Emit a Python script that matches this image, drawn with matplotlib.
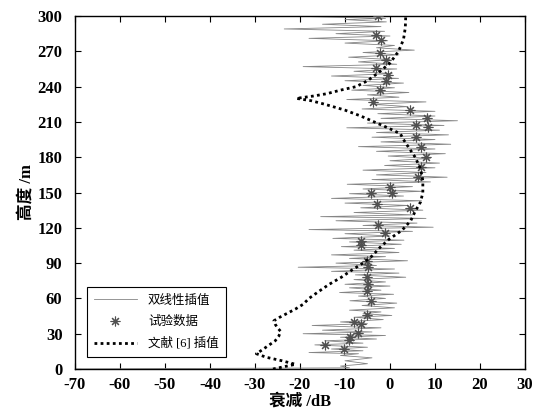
import matplotlib
matplotlib.use("Agg")
import matplotlib.pyplot as plt

# ---------------- data ----------------
# bilinear interpolation curve (turning points)
bl_h = [0, 1, 2.5, 4.5, 7, 9.5, 11.5, 13, 14, 15.5, 17, 18.5, 20.5, 22, 24, 25.5, 27, 28.5,
        30, 31.5, 33, 35, 37, 38.5, 40, 42, 44, 45.5, 47, 48.5, 50, 52, 54, 56, 58, 60, 62,
        63.5, 65, 67, 69, 70.5, 72, 74, 76, 78, 80, 81.5, 83, 85, 86.5, 88, 90, 92, 94, 95.5,
        97, 99, 101, 102.5, 104, 106, 108, 109.5, 111, 113, 115, 117, 118.5, 120.5, 122, 124,
        126, 128, 129.5, 131, 133, 135, 137, 139, 141, 143, 145, 147, 149, 151, 153, 155, 157,
        159, 161, 163, 165, 167, 169, 171, 173, 175, 177, 179, 181, 183, 185, 187, 189, 191,
        193, 195, 197, 199, 201, 203, 205, 207, 209, 211, 213, 215, 217, 219, 221, 223, 225,
        227, 229, 231, 233, 235, 237, 239, 241, 243, 245, 247, 249, 251, 253, 255, 257, 259,
        261, 263, 265, 267, 269, 271, 273, 275, 277, 279, 281, 283, 285, 287, 289, 291, 293,
        295, 297, 298, 299.5, 300]
bl_x = [-72, -9, -11, -5, -10, -4, -11, -7, -18, -6, -13, -5, -16.7, -6, -14.5, -3, -11, -1,
        -19.3, -4, -15, -2, -17.3, -5, -11, -1.5, -8, 0.4, -6, -2, -9, 1, -6.2, 1.5, -8.9, -1, -7,
        0.8, -11.2, -2, -9, 0, -10, -1, -8, 3.5, -7.7, 2, -13, 1, -20.4, -3, -12, 3.9, -9, -1,
        -13, 2, -8, 1, -10.8, 2.5, -9, 3.1, -12.7, 0, -10, 5, -18, 9.6, -6, 6,
        -12, 8, -15.4, 5, -8, 7.3, -6.5, 4, -10, 7, -13, 3, -9, 7.3, -6, 5, -9.5,
        9, -4, 12.7, -3, 8, -6, 10, -1.2, 11, 0, 9, -0.4, 12.3, -3, 10, -7, 13.5,
        -2, 10, -4, 13, -3, 11, -9.6, 12, -5, 15, -2, 10, -2.7, 10, -6.2, 4, -4,
        8, -9.6, 2, -5, 4.2, -8.5, 1, -6, 3, -10, 1.9, -13, 0.5, -8, 1.5, -19.3, 1.5,
        -7, 0, -9.2, 2, -6, 5.4, -3, 1, -10, -0.5, -18, 0, -12, -1.2, -23.5, -2, -15,
        -0.8, -10, -1, -17.7, -3]

# experimental data
exp_h = [300, 284, 280, 268.5, 263, 256, 250, 245, 237, 227, 220.5, 213, 207, 206, 197, 189,
         180, 171.5, 163, 154.5, 149.5, 149.5, 140, 137, 122.5, 115.7, 109, 105, 92, 86.5,
         78, 72, 66, 58, 46, 40, 38, 31, 27, 25, 20, 17]
exp_x = [-2.7, -3.2, -2.1, -2.3, -0.9, -3.2, -0.4, -0.8, -2.3, -3.7, 4.5, 8.3, 5.8, 8.5, 5.8,
         6.9, 8.1, 7.0, 6.3, 0.0, 0.4, -4.2, -2.9, 4.4, -2.7, -1.2, -6.4, -6.5, -5.2, -4.8,
         -5.0, -4.8, -5.2, -4.2, -5.0, -8.1, -6.5, -7.2, -8.9, -9.1, -14.4, -10.3]

# reference [6] interpolation
ref_h = [0, 2, 4, 7, 10, 13, 16, 20, 24, 28, 32, 35, 38, 41, 44, 47, 51, 55, 60, 66, 72, 78,
         84, 90, 96, 103, 110, 118, 126, 134, 142, 150, 160, 170, 180, 188, 195, 200, 205, 210,
         215, 220, 225, 228, 230, 232, 234, 237, 240, 245, 252, 260, 270, 280, 290, 300]
ref_x = [-26, -23.5, -21, -24, -27.5, -29.7, -28.5, -27, -25.5, -24.7, -24.3, -25, -25.5,
         -25.8, -24.5, -23, -21, -19.3, -18, -15.8, -13.5, -10.8, -8.5, -6, -4, -2.3, -0.3,
         2.7, 4.6, 5.6, 6.8, 7.3, 7.3, 6.8, 5.6, 4.2, 3.0, 2.3, -0.5, -3.5, -6.5, -10, -14.5,
         -17.5, -20.8, -17, -14, -11, -7.5, -5, -2.5, 0.0, 1.9, 3.0, 3.4, 3.5]

x_ticks = [-70, -60, -50, -40, -30, -20, -10, 0, 10, 20, 30]
y_ticks = [0, 30, 60, 90, 120, 150, 180, 210, 240, 270, 300]
labels = ["双线性插值", "试验数据", "文献 [6] 插值"]
xlabel = "衰减 /dB"
ylabel = "高度 /m"

# ---------------- plot ----------------
fam = ['Liberation Serif', 'Noto Sans CJK SC']
plt.rcParams['font.family'] = fam

fig = plt.figure(figsize=(5.41, 4.19), dpi=100)
ax = fig.add_axes([0.1386, 0.1193, 0.8318, 0.8425])

ax.plot(bl_x, bl_h, color='#858585', lw=0.6, label=labels[0], zorder=2)
ax.plot(exp_x, exp_h, linestyle='none', marker=(8, 2, 0), markersize=7,
        markeredgewidth=0.8, color='#505050', label=labels[1], zorder=3)
ax.plot(ref_x, ref_h, color='black', lw=2.0, linestyle=(0, (1, 1.2)),
        label=labels[2], zorder=4)

ax.set_xlim(-70, 30)
ax.set_ylim(0, 300)
ax.set_xticks(x_ticks)
ax.set_yticks(y_ticks)
ax.set_xticklabels([str(t) for t in x_ticks])
ax.set_yticklabels([str(t) for t in y_ticks])
ax.tick_params(direction='in', top=True, right=True, length=4, width=0.8,
               labelsize=12)
ax.tick_params(axis='x', pad=6)
ax.tick_params(axis='y', pad=9)
for lab in ax.get_xticklabels() + ax.get_yticklabels():
    lab.set_fontweight('bold')
for s in ax.spines.values():
    s.set_linewidth(1.0)

ax.set_xlabel(xlabel, fontsize=12, fontweight='bold', labelpad=0)
ax.set_ylabel(ylabel, fontsize=12, fontweight='bold', labelpad=2)

leg = ax.legend(loc='lower left', bbox_to_anchor=(0.012, 0.015), fontsize=9,
                frameon=True, fancybox=False, edgecolor='black', framealpha=1,
                handlelength=3.4, borderpad=0.6, labelspacing=0.75, handletextpad=0.9)
leg.get_frame().set_linewidth(0.8)

fig.savefig("out.png", dpi=100)
